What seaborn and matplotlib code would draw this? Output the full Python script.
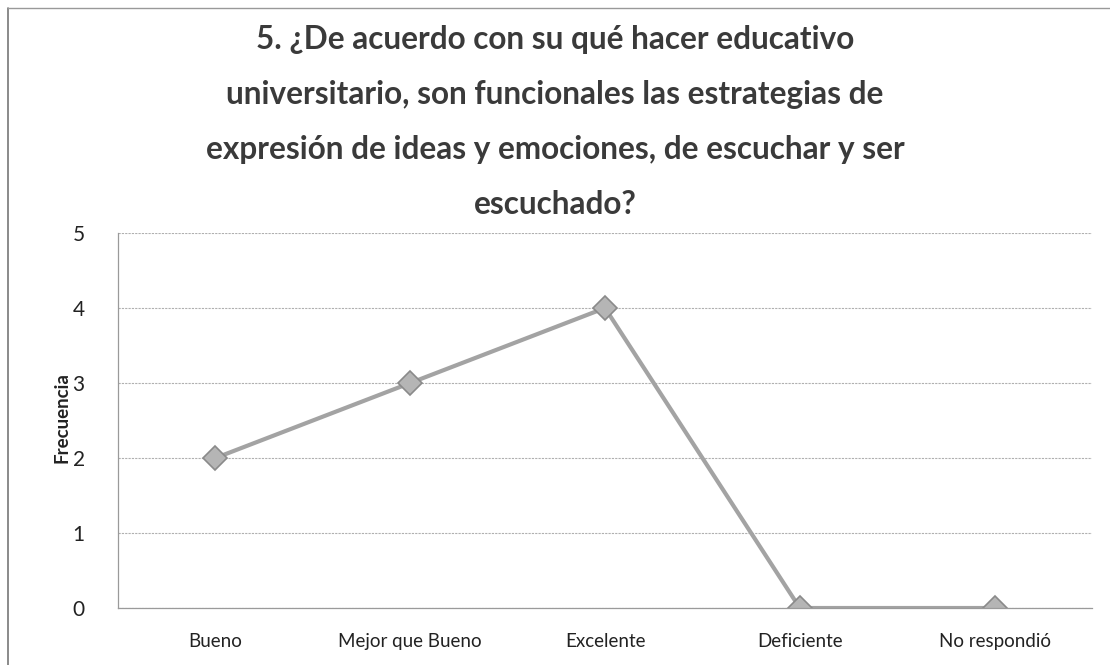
import matplotlib
matplotlib.use("Agg")
import matplotlib.pyplot as plt
import seaborn as sns
import pandas as pd
from matplotlib.lines import Line2D

categorias = ["Bueno", "Mejor que Bueno", "Excelente", "Deficiente", "No respondió"]
frecuencia = [2, 3, 4, 0, 0]
titulo = ("5. ¿De acuerdo con su qué hacer educativo\n"
          "universitario, son funcionales las estrategias de\n"
          "expresión de ideas y emociones, de escuchar y ser\n"
          "escuchado?")

df = pd.DataFrame({"categoria": categorias, "frecuencia": frecuencia})

sns.set_style("white")
plt.rcParams["font.family"] = ["Lato", "DejaVu Sans"]

fig = plt.figure(figsize=(11.1, 6.65), dpi=100)
ax = fig.add_axes([0.1063, 0.0857, 0.8775, 0.5639])

sns.lineplot(data=df, x="categoria", y="frecuencia", ax=ax, sort=False,
             color="#a3a3a3", linewidth=3, marker="D", markersize=12,
             markerfacecolor="#b5b5b5", markeredgecolor="#8a8a8a",
             markeredgewidth=1.2)

ax.set_xlim(-0.5, len(categorias) - 0.5)
ax.set_ylim(0, 5)
ax.set_yticks(range(6))
ax.yaxis.grid(True, color="#b0b0b0", linewidth=0.8, linestyle=(0, (2, 1)))
ax.set_axisbelow(True)
for s in ["top", "right"]:
    ax.spines[s].set_visible(False)
for s in ["left", "bottom"]:
    ax.spines[s].set_color("#9a9a9a")
    ax.spines[s].set_linewidth(0.9)
ax.tick_params(axis="both", length=0, colors="#222222")
ax.tick_params(axis="y", pad=24, labelsize=15)
ax.tick_params(axis="x", pad=18, labelsize=13.5)
ax.set_xlabel("")
ax.set_ylabel("Frecuencia", fontsize=13.5, fontweight="bold", color="#222222",
              va="center")
ax.yaxis.set_label_coords(-0.0575, 0.507)

fig.text(0.5, 0.816, titulo, ha="center", va="center", fontsize=22.7,
         fontweight="bold", color="#3a3a3a", linespacing=2.08)

# scanned page frame (left and top edges only)
fig.add_artist(Line2D([0.007, 0.007], [0.0, 0.988], transform=fig.transFigure,
                      color="#777777", linewidth=1.2))
fig.add_artist(Line2D([0.007, 1.0], [0.988, 0.988], transform=fig.transFigure,
                      color="#999999", linewidth=1.0))

fig.savefig("out.png", dpi=100)
